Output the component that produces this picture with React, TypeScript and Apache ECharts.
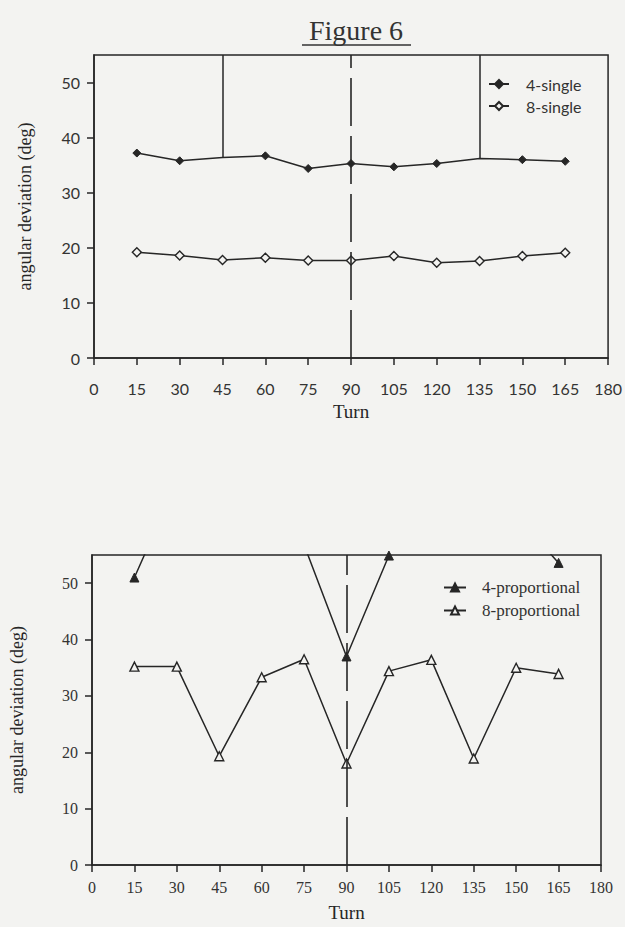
import React, { useEffect, useRef } from "react";
import * as echarts from "echarts";

// ---------- data ----------
const turns = [15, 30, 45, 60, 75, 90, 105, 120, 135, 150, 165];
const xTicks = [0, 15, 30, 45, 60, 75, 90, 105, 120, 135, 150, 165, 180];
const yTicks = [0, 10, 20, 30, 40, 50];

const single4 = [37.2, 35.8, 36.4, 36.7, 34.4, 35.3, 34.7, 35.3, 36.2, 36.0, 35.7];
const single4Spikes = [45, 135]; // points without marker, line rising to the top
const single8 = [19.2, 18.6, 17.8, 18.2, 17.7, 17.7, 18.5, 17.3, 17.6, 18.5, 19.1];

const prop4 = [51.0, 68, 74, 70, 56.8, 37.0, 54.9, 72, 78, 62, 53.6];
const prop8 = [35.2, 35.2, 19.3, 33.3, 36.5, 18.0, 34.4, 36.4, 18.9, 35.0, 33.9];

const yMax = 55;
const dashTurn = 90;

const titleText = "Figure 6";
const yName = "angular deviation (deg)";
const xName = "Turn";

// ---------- styles ----------
const ink = "#262626";
const bg = "#f3f3f1";
const serif = "Liberation Serif";
const sans = "Lato";

function xAxisFor(gridIndex: number, font: string, labelMargin: number, nameGap: number) {
  return {
    gridIndex,
    type: "value",
    min: xTicks[0],
    max: xTicks[xTicks.length - 1],
    interval: 15,
    name: xName,
    nameLocation: "middle",
    nameGap,
    nameTextStyle: { fontFamily: serif, fontSize: 19, color: ink },
    axisLine: { show: true, onZero: false, lineStyle: { color: ink, width: 1.5 } },
    axisTick: { show: true, length: 7, lineStyle: { color: ink, width: 1.5 } },
    axisLabel: { margin: labelMargin, fontFamily: font, fontSize: 16, color: "#333" },
    splitLine: { show: false },
  };
}

function yAxisFor(gridIndex: number, font: string, nameGap: number) {
  return {
    gridIndex,
    type: "value",
    min: 0,
    max: yMax,
    interval: 10,
    name: yName,
    nameLocation: "middle",
    nameRotate: 90,
    nameGap,
    nameTextStyle: { fontFamily: serif, fontSize: 18, color: ink },
    axisLine: { show: true, lineStyle: { color: ink, width: 1.5 } },
    axisTick: { show: true, length: 7, customValues: yTicks, lineStyle: { color: ink, width: 1.5 } },
    axisLabel: { margin: 14, customValues: yTicks, fontFamily: font, fontSize: 16, color: "#333" },
    splitLine: { show: false },
  };
}

const pairs = (vals: number[]) => turns.map((t, i) => [t, vals[i]]);

export default function App() {
  const ref = useRef<HTMLDivElement>(null);

  useEffect(() => {
    if (!ref.current) return;
    const chart = echarts.init(ref.current, null, { renderer: "svg" });

    const dashMark = {
      silent: true,
      symbol: ["none", "none"],
      label: { show: false },
      lineStyle: { color: ink, width: 1.6, type: [48, 10] },
      data: [{ xAxis: dashTurn }],
    };

    const option: any = {
      animation: false,
      backgroundColor: bg,
      graphic: [
        {
          type: "text",
          x: 356,
          y: 30,
          style: {
            text: titleText,
            fontFamily: serif,
            fontSize: 28,
            fill: "#333",
            textAlign: "center",
            textVerticalAlign: "middle",
          },
        },
        {
          type: "line",
          shape: { x1: 302, y1: 45, x2: 411, y2: 45 },
          style: { stroke: "#333", lineWidth: 1.5 },
        },
      ],
      grid: [
        { left: 94, top: 55, width: 515, height: 303, show: true, borderColor: ink, borderWidth: 1.5, backgroundColor: "transparent" },
        { left: 85, top: 555, width: 516, height: 310, show: true, borderColor: ink, borderWidth: 1.5, backgroundColor: "transparent" },
      ],
      xAxis: [xAxisFor(0, sans, 22, 44), xAxisFor(1, serif, 14, 38)],
      yAxis: [yAxisFor(0, sans, 60), yAxisFor(1, serif, 66)],
      legend: [
        {
          orient: "vertical",
          left: 483,
          top: 71,
          itemWidth: 20,
          itemHeight: 10,
          itemGap: 6,
          data: ["4-single", "8-single"],
          textStyle: { fontFamily: sans, fontSize: 16, color: "#333", padding: [0, 0, 0, 12] },
        },
        {
          orient: "vertical",
          left: 438,
          top: 574,
          itemWidth: 22,
          itemHeight: 10,
          itemGap: 6,
          data: ["4-proportional", "8-proportional"],
          textStyle: { fontFamily: serif, fontSize: 17, color: "#333", padding: [0, 0, 0, 11] },
        },
      ],
      series: [
        {
          name: "4-single",
          type: "line",
          xAxisIndex: 0,
          yAxisIndex: 0,
          symbol: "diamond",
          symbolSize: 8,
          lineStyle: { color: ink, width: 1.5 },
          itemStyle: { color: ink, borderColor: ink, borderWidth: 1 },
          data: turns.map((t, i) =>
            single4Spikes.includes(t)
              ? { value: [t, single4[i]], symbol: "none" }
              : [t, single4[i]]
          ),
          markLine: {
            silent: true,
            symbol: ["none", "none"],
            label: { show: false },
            lineStyle: { color: ink, width: 1.5, type: "solid" },
            data: single4Spikes.map((t) => [
              { coord: [t, single4[turns.indexOf(t)]] },
              { coord: [t, yMax] },
            ]),
          },
        },
        {
          name: "8-single",
          type: "line",
          xAxisIndex: 0,
          yAxisIndex: 0,
          symbol: "diamond",
          symbolSize: 9,
          lineStyle: { color: ink, width: 1.5 },
          itemStyle: { color: bg, borderColor: ink, borderWidth: 1.4 },
          data: pairs(single8),
          markLine: dashMark,
        },
        {
          name: "4-proportional",
          type: "line",
          xAxisIndex: 1,
          yAxisIndex: 1,
          symbol: "triangle",
          symbolSize: 9,
          lineStyle: { color: ink, width: 1.5 },
          itemStyle: { color: ink, borderColor: ink, borderWidth: 1 },
          data: pairs(prop4),
        },
        {
          name: "8-proportional",
          type: "line",
          xAxisIndex: 1,
          yAxisIndex: 1,
          symbol: "triangle",
          symbolSize: 9,
          lineStyle: { color: ink, width: 1.5 },
          itemStyle: { color: bg, borderColor: ink, borderWidth: 1.4 },
          data: pairs(prop8),
          markLine: dashMark,
        },
      ],
    };

    chart.setOption(option);
    return () => chart.dispose();
  }, []);

  return (
    <div
      ref={ref}
      style={{ position: "fixed", left: 0, top: 0, width: 625, height: 927 }}
    />
  );
}
